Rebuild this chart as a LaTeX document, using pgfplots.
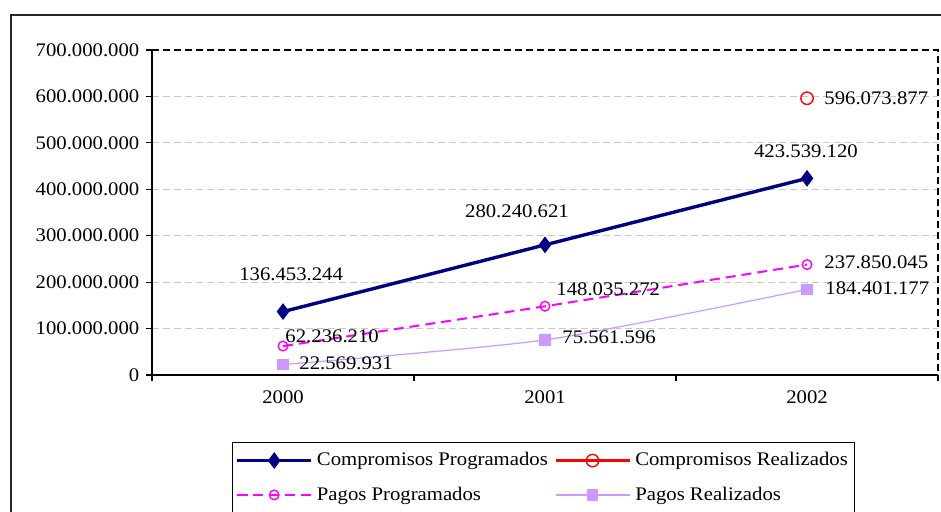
\documentclass[border=0pt]{standalone}
\usepackage{fontspec}
\setmainfont{Liberation Serif}[FakeStretch=1.08]
\usepackage{pgfplots}
\pgfplotsset{compat=1.18}
\definecolor{navyc}{RGB}{0,0,128}
\definecolor{lav}{RGB}{204,153,255}
\definecolor{gridc}{RGB}{200,200,200}
\definecolor{magc}{RGB}{255,0,255}
\definecolor{redc}{RGB}{255,0,0}
\newcommand{\cf}{\fontsize{9.6}{11}\selectfont}
\begin{document}
\begin{tikzpicture}
\path[use as bounding box, clip] (0,0) rectangle (470.5pt,256pt);
\draw[line width=0.9pt, black!85] (5.5pt,-5pt) rectangle (480pt,248.5pt);
\begin{axis}[
  at={(76pt,68.5pt)}, anchor=south west,
  scale only axis, width=393pt, height=162.5pt,
  xmin=-0.5, xmax=2.5, ymin=0, ymax=700000000,
  axis x line*=bottom, axis y line*=left,
  axis line style={line width=0.8pt, black},
  xtick={-0.5,0.5,1.5,2.5}, xticklabels={},
  extra x ticks={0,1,2}, extra x tick labels={2000,2001,2002},
  extra x tick style={major tick length=0pt, xticklabel style={yshift=-4.5pt}},
  ytick={0,100000000,200000000,300000000,400000000,500000000,600000000,700000000},
  scaled y ticks=false,
  yticklabel style={/pgf/number format/.cd, fixed, 1000 sep={.}, assume math mode=true},
  tick align=outside, major tick length=2.8pt,
  tick style={black, line width=0.6pt},
  ymajorgrids, grid style={gridc, dash pattern=on 3.5pt off 2pt, line width=0.5pt},
  tick label style={font=\cf},
  legend columns=2,
  legend cell align=left,
  legend style={at={(0.1018,-0.206)}, anchor=north west, draw=black, line width=0.5pt,
    font=\cf, row sep=5pt, inner xsep=1.5pt, inner ysep=3pt,
    /tikz/every even column/.append style={column sep=1pt}},
  legend image code/.code={\draw[mark repeat=2,mark phase=2] plot coordinates {(0pt,0pt) (18.5pt,0pt) (37pt,0pt)};},
  clip=false,
]
\addplot[navyc, line width=1.7pt, mark=diamond*, mark size=2.8pt, mark options={solid, fill=navyc}] coordinates {(0,136453244) (1,280240621) (2,423539120)};
\addlegendentry{Compromisos Programados}
\addplot[redc, line width=1.7pt, mark=o, mark size=3.1pt, mark options={solid, line width=0.7pt, fill=white}] coordinates {(2,596073877)};
\addlegendentry{Compromisos Realizados\hspace{14pt}}
\addplot[magc, line width=1pt, dash pattern=on 5pt off 3pt, smooth, tension=0.4, mark=o, mark size=2.4pt, mark options={solid, line width=0.7pt, fill=white}] coordinates {(0,62236210) (1,148035272) (2,237850045)};
\addlegendentry{Pagos Programados}
\addplot[lav, line width=0.6pt, smooth, tension=0.4, mark=square*, mark size=2.5pt, mark options={solid, fill=lav}] coordinates {(0,22569931) (1,75561596) (2,184401177)};
\addlegendentry{Pagos Realizados}
\draw[black, line width=0.6pt, dash pattern=on 3.5pt off 2pt] (rel axis cs:0,1) -- (rel axis cs:1,1) -- (rel axis cs:1,0);
\begin{scope}[every node/.style={font=\cf, inner sep=0pt}]
\node[anchor=center] at (axis cs:0.031,217500000) {136.453.244};
\node[anchor=center] at (axis cs:0.893,353000000) {280.240.621};
\node[anchor=center] at (axis cs:1.996,482000000) {423.539.120};
\node[anchor=west] at (axis cs:2.065,596600000) {596.073.877};
\node[anchor=west] at (axis cs:2.065,243400000) {237.850.045};
\node[anchor=west] at (axis cs:2.069,187400000) {184.401.177};
\node[anchor=west] at (axis cs:0.008,84000000) {62.236.210};
\node[anchor=west] at (axis cs:0.061,25800000) {22.569.931};
\node[anchor=west] at (axis cs:1.042,185000000) {148.035.272};
\node[anchor=west] at (axis cs:1.065,82000000) {75.561.596};
\end{scope}
\end{axis}
\end{tikzpicture}
\end{document}
